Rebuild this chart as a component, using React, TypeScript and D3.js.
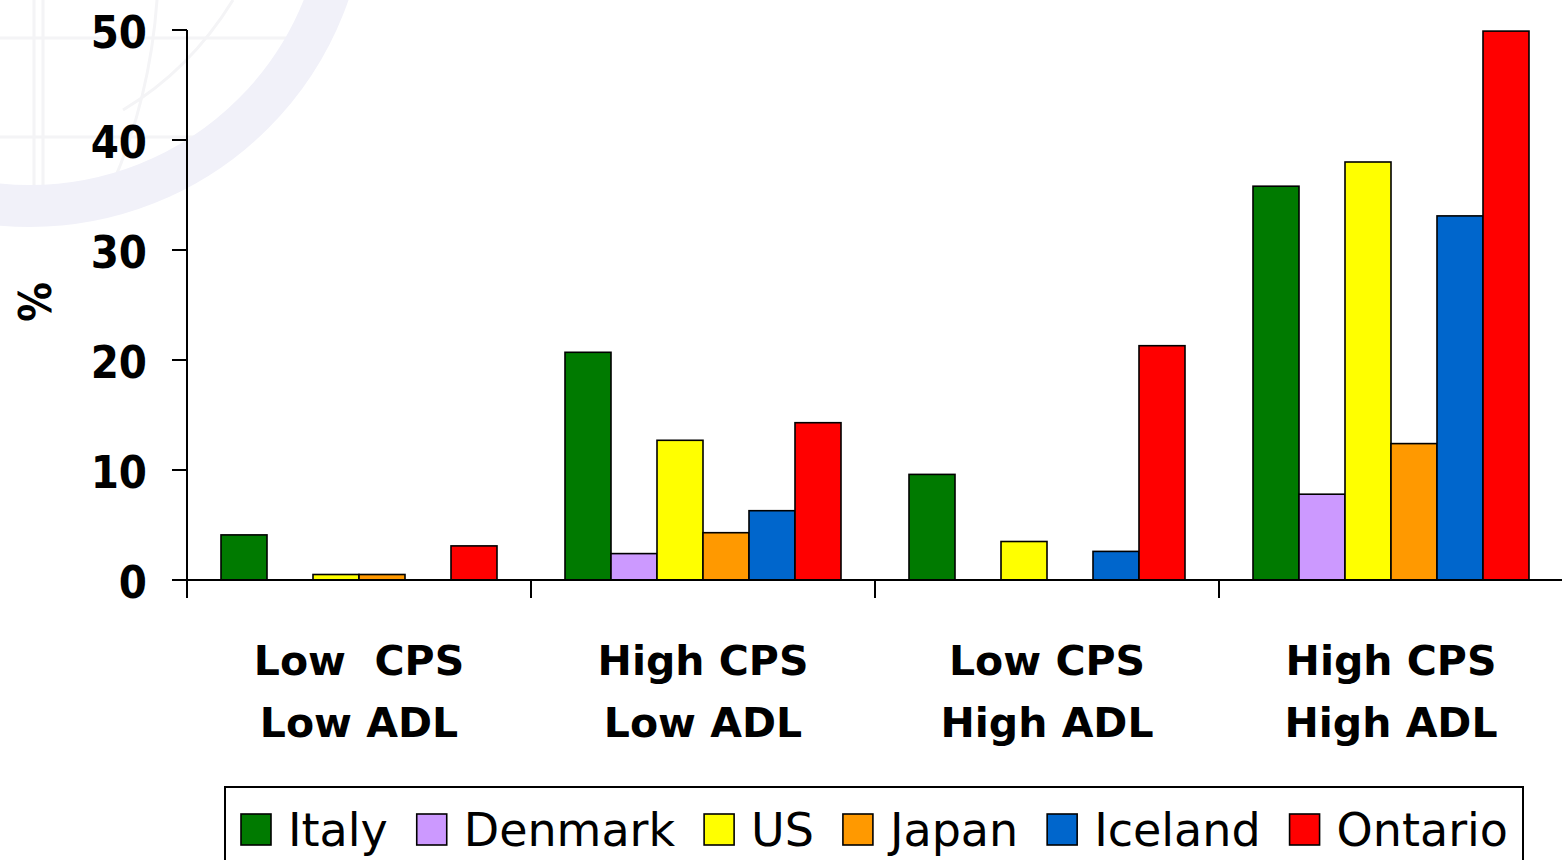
import React from "react";
import * as d3 from "d3";

const categories = ["Low  CPS|Low ADL", "High CPS|Low ADL", "Low CPS|High ADL", "High CPS|High ADL"];
const countries = ["Italy", "Denmark", "US", "Japan", "Iceland", "Ontario"];
const colors = ["#007a00", "#cc99ff", "#ffff00", "#ff9900", "#0066cc", "#ff0000"];
const italy = [4.1, 20.7, 9.6, 35.8];
const denmark = [0, 2.4, 0, 7.8];
const us = [0.5, 12.7, 3.5, 38.0];
const japan = [0.5, 4.3, 0, 12.4];
const iceland = [0, 6.3, 2.6, 33.1];
const ontario = [3.1, 14.3, 21.3, 49.9];
const series = [italy, denmark, us, japan, iceland, ontario];
const yTicks = [0, 10, 20, 30, 40, 50];

const W = 1562;
const H = 860;
const left = 187;
const right = 1563;
const top = 30;
const bottom = 580;

const tickFont = "'DejaVu Sans Condensed', 'DejaVu Sans', sans-serif";
const catFont = "'DejaVu Sans', sans-serif";
const legFont = "'DejaVu Sans', sans-serif";
const legSize = 46;

function measure(text: string, font: string): number {
  if (typeof document === "undefined") return text.length * 25;
  const c = document.createElement("canvas");
  const ctx = c.getContext("2d");
  if (!ctx) return text.length * 25;
  ctx.font = font;
  return ctx.measureText(text).width;
}

export default function App() {
  const x0 = d3.scaleBand<string>().domain(categories).range([left, right]).paddingInner(0).paddingOuter(0);
  const bw = x0.bandwidth();
  const x1 = d3.scaleBand<string>().domain(countries).range([34, bw - 34]).padding(0);
  const y = d3.scaleLinear().domain([0, 50]).range([bottom, top]);

  // legend layout
  const legLeft = 241;
  const legRight = 1508;
  const sw = 30;
  const swGap = 17;
  const widths = countries.map((c) => measure(c, `${legSize}px 'DejaVu Sans'`));
  const itemW = widths.map((w) => sw + swGap + w);
  const total = d3.sum(itemW);
  const gap = (legRight - legLeft - total) / (countries.length - 1);
  const legX: number[] = [];
  let acc = legLeft;
  itemW.forEach((w) => {
    legX.push(acc);
    acc += w + gap;
  });

  const arcR = 316;
  const wmPath = d3.arc()({ innerRadius: 0, outerRadius: arcR, startAngle: 0, endAngle: 2 * Math.PI }) as string;

  return (
    <svg width={W} height={H} style={{ position: "absolute", left: 0, top: 0, background: "#fff" }}>
      <defs>
        <clipPath id="globe">
          <circle cx={30} cy={-110} r={296} />
        </clipPath>
      </defs>
      {/* faint watermark */}
      <g>
        <g clipPath="url(#globe)" stroke="#f4f4f6" strokeWidth={3} fill="none">
          <line x1={0} y1={38} x2={400} y2={38} />
          <line x1={0} y1={137} x2={400} y2={137} />
          <line x1={34} y1={0} x2={34} y2={260} />
          <line x1={43} y1={0} x2={43} y2={260} />
          <path d="M 233 0 Q 190 70 123 110" />
          <path d="M 157 0 Q 150 100 110 190" />
        </g>
        <path d={wmPath} transform="translate(30,-110)" fill="none" stroke="#f1f1f9" strokeWidth={42} />
      </g>

      {/* y axis */}
      <line x1={left} x2={left} y1={y(50)} y2={bottom + 18} stroke="#000" strokeWidth={2} />
      {yTicks.map((t) => (
        <g key={t}>
          <line x1={left - 15} x2={left} y1={y(t)} y2={y(t)} stroke="#000" strokeWidth={2} />
          <text x={147} y={y(t) + 18} textAnchor="end" fontFamily={tickFont} fontWeight="bold" fontSize={45} fill="#000">
            {t}
          </text>
        </g>
      ))}
      <text
        transform={`translate(${51},${302}) rotate(-90)`}
        textAnchor="middle"
        fontFamily={tickFont}
        fontWeight="bold"
        fontSize={44}
        fill="#000"
      >
        %
      </text>

      {/* bars */}
      {categories.map((cat, ci) => (
        <g key={cat} transform={`translate(${x0(cat)},0)`}>
          {countries.map((c, si) => {
            const v = series[si][ci];
            if (!v) return null;
            return (
              <rect
                key={c}
                x={x1(c)}
                y={y(v)}
                width={x1.bandwidth()}
                height={y(0) - y(v)}
                fill={colors[si]}
                stroke="#000"
                strokeWidth={1.6}
              />
            );
          })}
        </g>
      ))}

      {/* x axis */}
      <line x1={left} x2={W} y1={bottom} y2={bottom} stroke="#000" strokeWidth={2} />
      {categories.map((cat) => (
        <line key={cat} x1={x0(cat)} x2={x0(cat)} y1={bottom} y2={bottom + 18} stroke="#000" strokeWidth={2} />
      ))}
      {categories.map((cat) => {
        const lines = cat.split("|");
        const cx = (x0(cat) as number) + bw / 2;
        return (
          <text
            key={cat}
            textAnchor="middle"
            fontFamily={catFont}
            fontWeight="bold"
            fontSize={41}
            fill="#000"
            style={{ whiteSpace: "pre" }}
          >
            <tspan x={cx} y={675}>{lines[0]}</tspan>
            <tspan x={cx} y={737}>{lines[1]}</tspan>
          </text>
        );
      })}

      {/* legend */}
      <rect x={225} y={787} width={1298} height={120} fill="#fff" stroke="#000" strokeWidth={2} />
      {countries.map((c, i) => (
        <g key={c}>
          <rect x={legX[i]} y={814} width={sw} height={31} fill={colors[i]} stroke="#000" strokeWidth={1.6} />
          <text x={legX[i] + sw + swGap} y={846} fontFamily={legFont} fontSize={legSize} fill="#000">
            {c}
          </text>
        </g>
      ))}
    </svg>
  );
}
